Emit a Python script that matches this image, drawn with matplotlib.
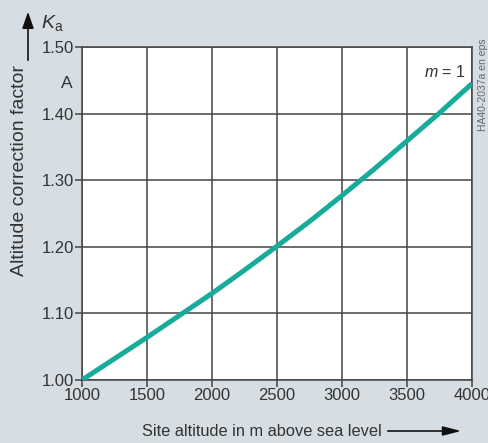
import matplotlib
matplotlib.use("Agg")
import matplotlib.pyplot as plt
from matplotlib.patches import FancyArrowPatch

# altitude correction factor
altitude = [1000, 1250, 1500, 1750, 2000, 2250, 2500, 2750, 3000, 3250, 3500, 3750, 4000]
k_a = [1.000, 1.032, 1.064, 1.097, 1.130, 1.165, 1.201, 1.238, 1.277, 1.317, 1.359, 1.401, 1.445]

x_ticks = [1000, 1500, 2000, 2500, 3000, 3500, 4000]
y_ticks = [1.00, 1.10, 1.20, 1.30, 1.40, 1.50]

plt.rcParams["font.family"] = ["Liberation Sans", "DejaVu Sans"]
plt.rcParams["mathtext.fontset"] = "custom"
plt.rcParams["mathtext.rm"] = "Liberation Sans"
plt.rcParams["mathtext.it"] = "Liberation Sans:italic"

BG = "#d6dee3"
TXT = "#333333"
GRID = "#444444"
TEAL = "#17ab9c"

W, H = 489, 443
fig = plt.figure(figsize=(W / 100, H / 100), dpi=100, facecolor=BG)
ax = fig.add_axes([82 / W, 1 - 380 / H, 390 / W, 333 / H])
ax.set_facecolor("white")

ax.plot(altitude, k_a, color=TEAL, lw=3.6, solid_capstyle="butt", zorder=3)

ax.set_xlim(1000, 4000)
ax.set_ylim(1.00, 1.50)
ax.set_xticks(x_ticks)
ax.set_yticks(y_ticks)
ax.set_yticklabels([f"{v:.2f}" for v in y_ticks])
ax.grid(True, color=GRID, lw=1.1)
ax.set_axisbelow(True)
for s in ax.spines.values():
    s.set_color(GRID)
    s.set_linewidth(1.1)
ax.tick_params(direction="out", length=5, width=1.1, color=GRID,
               labelsize=12, labelcolor=TXT, pad=1)

ax.text(0.985, 0.925, "$m$ = 1", transform=ax.transAxes, ha="right", va="center",
        fontsize=11.5, color=TXT)


def fx(px):
    return px / W


def fy(py):
    return 1 - py / H


# y-axis label with arrow and symbol
fig.text(fx(20), fy(171), "Altitude correction factor", rotation=90,
         ha="center", va="center", fontsize=14, color=TXT)
fig.add_artist(FancyArrowPatch(
    (fx(28), fy(63)), (fx(28), fy(9)), transform=fig.transFigure,
    arrowstyle="-|>,head_length=10,head_width=3.5", color="#111111", lw=1.2))
fig.text(fx(41), fy(23), r"$K_{\mathrm{a}}$", ha="left", va="center",
         fontsize=14, color=TXT)
fig.text(fx(67), fy(83), "A", ha="center", va="center", fontsize=12.5, color=TXT)

# x-axis label with arrow
fig.text(fx(262), fy(432), "Site altitude in m above sea level",
         ha="center", va="center", fontsize=11.8, color=TXT)
fig.add_artist(FancyArrowPatch(
    (fx(385), fy(431)), (fx(464), fy(431)), transform=fig.transFigure,
    arrowstyle="-|>,head_length=11,head_width=2.8", color="#111111", lw=1.2))

fig.text(fx(483), fy(85), "HA40-2037a en eps", rotation=90, ha="center",
         va="center", fontsize=7.5, color="#666666")

fig.savefig("out.png", dpi=100, facecolor=BG)
